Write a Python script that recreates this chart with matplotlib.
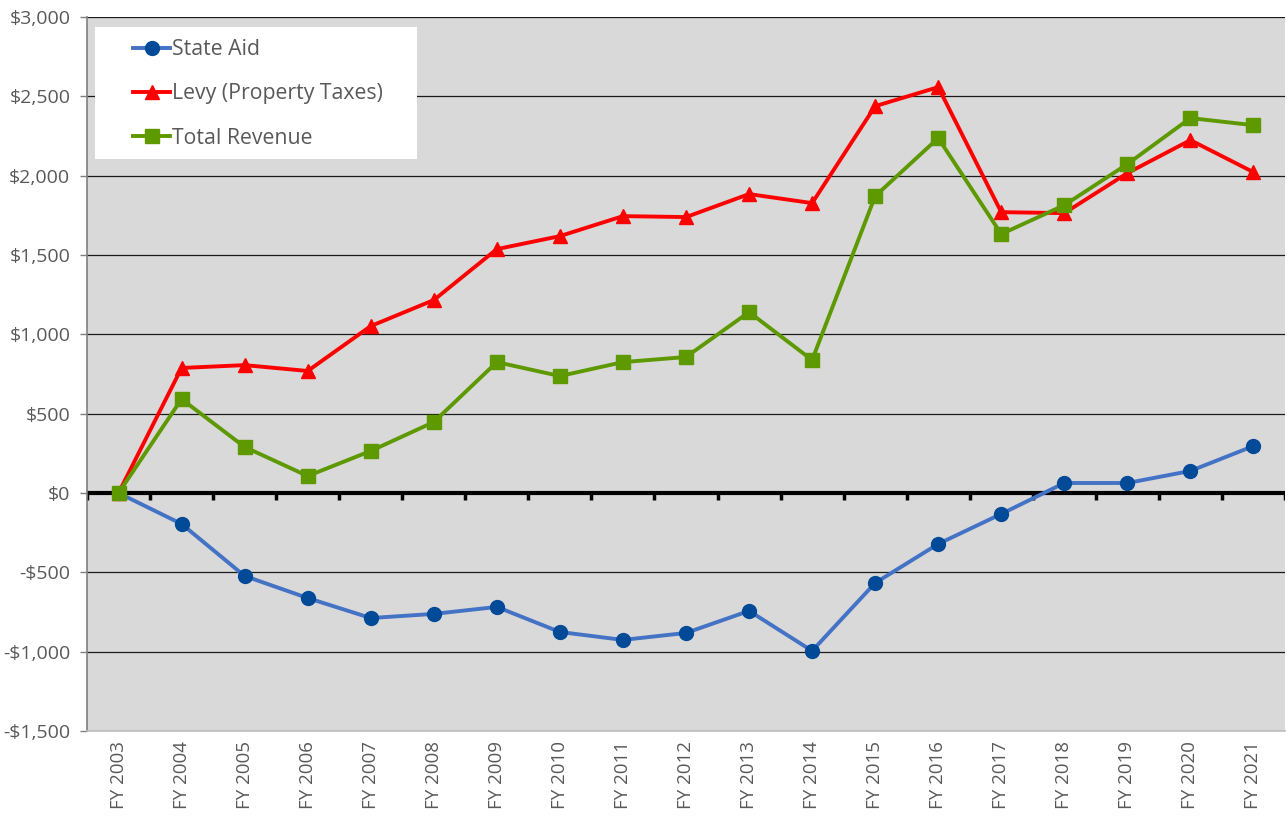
import matplotlib
matplotlib.use("Agg")
import matplotlib.pyplot as plt
from matplotlib.ticker import FuncFormatter, MultipleLocator
from matplotlib.patches import Rectangle

categories = ["FY 2003", "FY 2004", "FY 2005", "FY 2006", "FY 2007", "FY 2008", "FY 2009",
              "FY 2010", "FY 2011", "FY 2012", "FY 2013", "FY 2014", "FY 2015", "FY 2016",
              "FY 2017", "FY 2018", "FY 2019", "FY 2020", "FY 2021"]
state_aid = [0, -195, -523, -662, -788, -762, -718, -876, -926, -882, -743, -995, -567,
             -321, -132, 63, 63, 139, 296]
levy = [0, 788, 806, 769, 1052, 1216, 1537, 1619, 1745, 1739, 1884, 1827, 2438, 2558,
        1770, 1764, 2016, 2224, 2022]
total_revenue = [0, 592, 290, 107, 265, 447, 825, 737, 825, 857, 1140, 838, 1871, 2237,
                 1632, 1814, 2073, 2363, 2318]

plt.rcParams['font.family'] = ['Open Sans', 'DejaVu Sans']

W, H = 1288, 819
fig = plt.figure(figsize=(W / 100, H / 100), dpi=100)
ax_l, ax_r, ax_t, ax_b = 87, 1285, 17, 731
ax = fig.add_axes([ax_l / W, (H - ax_b) / H, (ax_r - ax_l) / W, (ax_b - ax_t) / H])
ax.set_facecolor('#D9D9D9')

def ax_x(px):
    return (px - ax_l) / (ax_r - ax_l)

def ax_y(py):
    return (ax_b - py) / (ax_b - ax_t)

x = list(range(len(categories)))
ax.set_xlim(-0.5, len(categories) - 0.5)
ax.set_ylim(-1500, 3000)
ax.yaxis.set_major_locator(MultipleLocator(500))
ax.grid(axis='y', color='#1a1a1a', linewidth=0.9, zorder=1)
ax.set_axisbelow(True)

def fmt(v, pos):
    if v < 0:
        return "-${:,.0f}".format(-v)
    return "${:,.0f}".format(v)
ax.yaxis.set_major_formatter(FuncFormatter(fmt))

ax.axhline(0, color='black', linewidth=3, zorder=2)
for b in range(len(categories) + 1):
    ax.plot([b - 0.5, b - 0.5], [0, -45], color='black', linewidth=2.5, zorder=2,
            solid_capstyle='butt')

l1, = ax.plot(x, state_aid, color='#4472C4', linewidth=2.8, marker='o', markersize=10,
              markerfacecolor='#004A98', markeredgecolor='#004A98', zorder=3, label='State Aid')
l2, = ax.plot(x, levy, color='#FF0000', linewidth=2.8, marker='^', markersize=10,
              markerfacecolor='#FF0000', markeredgecolor='#FF0000', zorder=4,
              label='Levy (Property Taxes)')
l3, = ax.plot(x, total_revenue, color='#5F9900', linewidth=2.8, marker='s', markersize=10,
              markerfacecolor='#5F9900', markeredgecolor='#5F9900', zorder=5,
              label='Total Revenue')

ax.set_xticks(x)
ax.set_xticklabels(categories, rotation=90, fontsize=13.5, color='#595959')
ax.tick_params(axis='x', length=0, pad=7)
ax.tick_params(axis='y', labelsize=14, labelcolor='#595959', color='#7f7f7f',
               length=5, width=1, direction='out', pad=7)

for s in ['top', 'right']:
    ax.spines[s].set_visible(False)
ax.spines['left'].set_color('#7f7f7f')
ax.spines['left'].set_linewidth(1.2)
ax.spines['bottom'].set_color('#bfbfbf')
ax.spines['bottom'].set_linewidth(1.2)

# white legend background box
rect = Rectangle((ax_x(95), ax_y(159)), ax_x(417) - ax_x(95), ax_y(27) - ax_y(159),
                 transform=ax.transAxes, facecolor='white', edgecolor='none', zorder=9)
ax.add_patch(rect)

leg = ax.legend(handles=[l1, l2, l3], loc='upper left',
                bbox_to_anchor=(ax_x(133), ax_y(39)),
                frameon=False, fontsize=15.3, labelcolor='#595959',
                handlelength=1.75, handletextpad=0.1, labelspacing=1.1,
                borderpad=0, borderaxespad=0)
leg.set_zorder(10)

fig.savefig('out.png', dpi=100, facecolor='white')
